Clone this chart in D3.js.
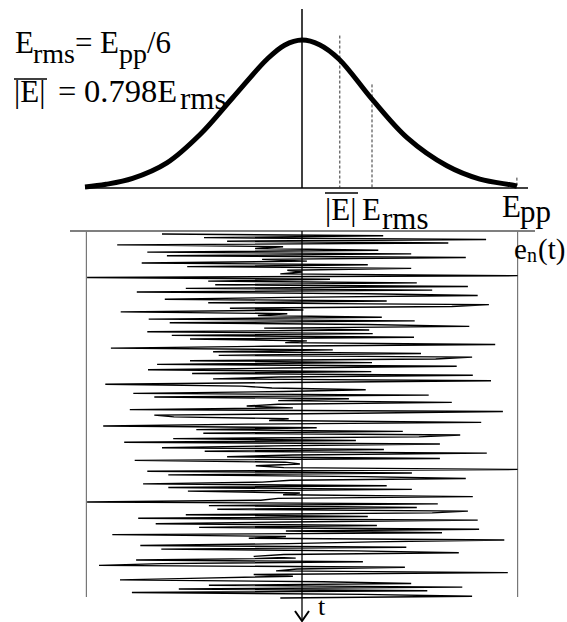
<!DOCTYPE html>
<html>
<head>
<meta charset="utf-8">
<script src="https://cdn.jsdelivr.net/npm/d3@7"></script>
<style>
  body { margin: 0; background: #fff; }
  text { font-family: "Liberation Serif", "Times New Roman", serif; fill: #000; }
</style>
</head>
<body>
<div id="chart"></div>
<script>
// amplitude in units of E_rms
// probability density curve (peak = 1)
let pdfAmp = [-3.1, -2.8, -2.42, -1.93, -1.46, -0.99, -0.5, -0.25, 0, 0.25, 0.53, 1.0, 1.5, 2.07, 2.54, 3.0, 3.07];
let pdfVal = [0.007, 0.025, 0.065, 0.17, 0.36, 0.61, 0.87, 0.965, 1.0, 0.968, 0.87, 0.6, 0.34, 0.15, 0.06, 0.02, 0.012];

// dashed markers: |E|, E_rms, E_pp
let markerAmp = [0.54, 1.0, 3.07];
let markerTop = [1.03, 0.70, 0.07];

// noise trace e_n(t), one value per sample, top to bottom
let noise = [
  -2.0, 1.16, -1.4, 2.63, -1.07, 2.09, -2.64, -0.27, -0.67, 1.09, -2.21, 1.56, -1.93, 2.34, -0.57, 0.07,
  -2.29, 0.94, -1.64, 1.56, -0.21, 0, -0.31, 3.08, -3.07, 0.4, -1.34, 1.64, -1.24,
  2.37, -1.66, 1.86, -2.36, 0.93, 2.51, -0.21, -1.96, 1.21, -1.34, 2.67, 2.14, -1.03, 0.02, -2.59, -0.21,
  -0.63, 1.14, -2.19, 1.61, -1.89, 0.91, 2.39, -0.54, 0.96, -2.21, 1.01, -1.86, 1.6, -1.6, 0.07,
  -0.24, 2.76, -0.54, -2.73, 0.44, -1.27, 1.7, -1.19, 2.43, 1.91, -1.6, 1.0, -2.07, 2.21, -0.31, -2.2,
  0.99, -1.57, 2.44, -0.33, -1.27, 2.7, -0.21, -2.81, -0.86, -0.43, 0.91, -0.27, -2.41, 1.81, -2.11, 0.67,
  -0.34, 2.14,
  -0.34, -0.79, -0.13, -2.46, 2.87, 0.77, -2.11, -1.83, -0.19, -0.47, 2.56, -0.77, -2.84, 0.21, -1.51, 1.44,
  -1.41, 2.26, 1.67, -1.84, 0.77, -2.54, 1.97, -0.4, -2.0, 1.17, -1.39, 2.64, -0.13, -1.07, 1.97, -2.39, -0.24,
  -0.03, -0.66, -0.26, 3.08, -2.21, 1.57, -1.91, 0.87, 2.34, -0.16, -0.57, -2.27, 1.21, -1.91, 1.57, -1.63,
  -0.03, -0.27, 2.44, -0.34, -0.59, -3.07, 1.94, -1.33, 1.64, -1.21, 2.37, 1.86, -1.66, 0.94, -2.34, 2.51,
  -0.2, -2.09, 1.07, -1.47,
  2.53, -0.23, 2.0, -2.71, -0.23, -0.76, 2.89, 1.01, -0.19, -2.31, 1.49, -2.01, 0.77, 2.24, -0.26, -0.69,
  -0.09, -2.37, 0.87, -2.01, -2.9, 1.47, -0.07, -0.37, 2.94, -0.69, -0.13, -1.43, -2.6, 0.3, 1.56, -1.33,
  2.29, -1.76, 1.79, -2.43, 0.87, 2.43, -0.31
];

// box limits (+-E_pp/2)
let boxAmp = [-3.08, 3.08];

let svgWidth = 567;
let svgHeight = 622;

let svg = d3.select('#chart').append('svg')
  .attr('width', svgWidth)
  .attr('height', svgHeight);

// shared amplitude scale
let x = d3.scaleLinear().domain([-3.1, 3.1]).range([85, 519]);
// density scale (top panel)
let yPdf = d3.scaleLinear().domain([0, 1]).range([188, 40]);
// time scale (bottom panel)
let yTime = d3.scaleLinear().domain([0, noise.length - 1]).range([234, 598]);

// ---- top panel ----
// vertical axis
svg.append('line')
  .attr('x1', x(0)).attr('x2', x(0))
  .attr('y1', yPdf(1.21)).attr('y2', yPdf(0))
  .attr('stroke', '#000').attr('stroke-width', 1.5);

// baseline
svg.append('line')
  .attr('x1', 85).attr('x2', 528)
  .attr('y1', yPdf(0)).attr('y2', yPdf(0))
  .attr('stroke', '#000').attr('stroke-width', 1.5);

// dashed markers
svg.selectAll('.marker')
  .data(markerAmp)
  .enter()
  .append('line')
  .classed('marker', true)
  .attr('x1', d => x(d)).attr('x2', d => x(d))
  .attr('y1', (d, i) => yPdf(markerTop[i])).attr('y2', yPdf(0))
  .attr('stroke', '#333').attr('stroke-width', 1)
  .attr('stroke-dasharray', '3,2');

// gaussian curve
let pdfLine = d3.line()
  .x((d, i) => x(pdfAmp[i]))
  .y(d => yPdf(d))
  .curve(d3.curveCatmullRom.alpha(0.5));

svg.append('path')
  .datum(pdfVal)
  .attr('d', pdfLine)
  .attr('fill', 'none')
  .attr('stroke', '#000')
  .attr('stroke-width', 5)
  .attr('stroke-linecap', 'butt');

// ---- bottom panel ----
let boxTop = 231, boxBottom = 597;

svg.append('line')
  .attr('x1', 70).attr('x2', 535)
  .attr('y1', boxTop).attr('y2', boxTop)
  .attr('stroke', '#000').attr('stroke-width', 1.2);

svg.selectAll('.edge')
  .data(boxAmp)
  .enter()
  .append('line')
  .classed('edge', true)
  .attr('x1', d => x(d)).attr('x2', d => x(d))
  .attr('y1', boxTop).attr('y2', boxBottom)
  .attr('stroke', '#777').attr('stroke-width', 1.2);

// time axis with arrow
svg.append('line')
  .attr('x1', x(0)).attr('x2', x(0))
  .attr('y1', boxTop).attr('y2', 620)
  .attr('stroke', '#000').attr('stroke-width', 1.3);

svg.append('path')
  .attr('d', `M${x(0) - 7},611 L${x(0)},621 L${x(0) + 7},611`)
  .attr('fill', 'none')
  .attr('stroke', '#000').attr('stroke-width', 2);

// noise trace
let noiseLine = d3.line()
  .x(d => x(d))
  .y((d, i) => yTime(i));

svg.append('path')
  .datum(noise)
  .attr('d', noiseLine)
  .attr('fill', 'none')
  .attr('stroke', '#000')
  .attr('stroke-width', 1.4);

// ---- labels ----
// parts: [x, y, text, size]
function label(parts) {
  let t = svg.append('text');
  parts.forEach(p => {
    t.append('tspan')
      .attr('x', p[0]).attr('y', p[1])
      .attr('font-size', p[3] || 31)
      .text(p[2]);
  });
}

function overline(x1, x2, py) {
  svg.append('line')
    .attr('x1', x1).attr('x2', x2)
    .attr('y1', py).attr('y2', py)
    .attr('stroke', '#000').attr('stroke-width', 1.5);
}

// E_rms = E_pp/6
label([[15, 53, 'E'], [33, 63, 'rms', 28], [75, 53, '='], [100, 53, 'E'], [119, 63, 'pp', 28], [147, 53, '/6']]);

// |E| = 0.798 E_rms
overline(14, 47, 79);
label([[14, 102, '|E|'], [58, 102, '=', 32.5], [84, 102, '0.798E', 32.5], [180, 109, 'rms']]);

// axis labels
overline(325, 358, 193);
label([[325, 220, '|E|'], [362, 220, 'E'], [382, 229, 'rms']]);
label([[502, 217, 'E'], [520, 222, 'pp']]);

label([[514, 259, 'e', 29], [527, 262, 'n', 20], [538, 259, '(t)', 29]]);

label([[318, 615, 't', 26]]);
</script>
</body>
</html>
